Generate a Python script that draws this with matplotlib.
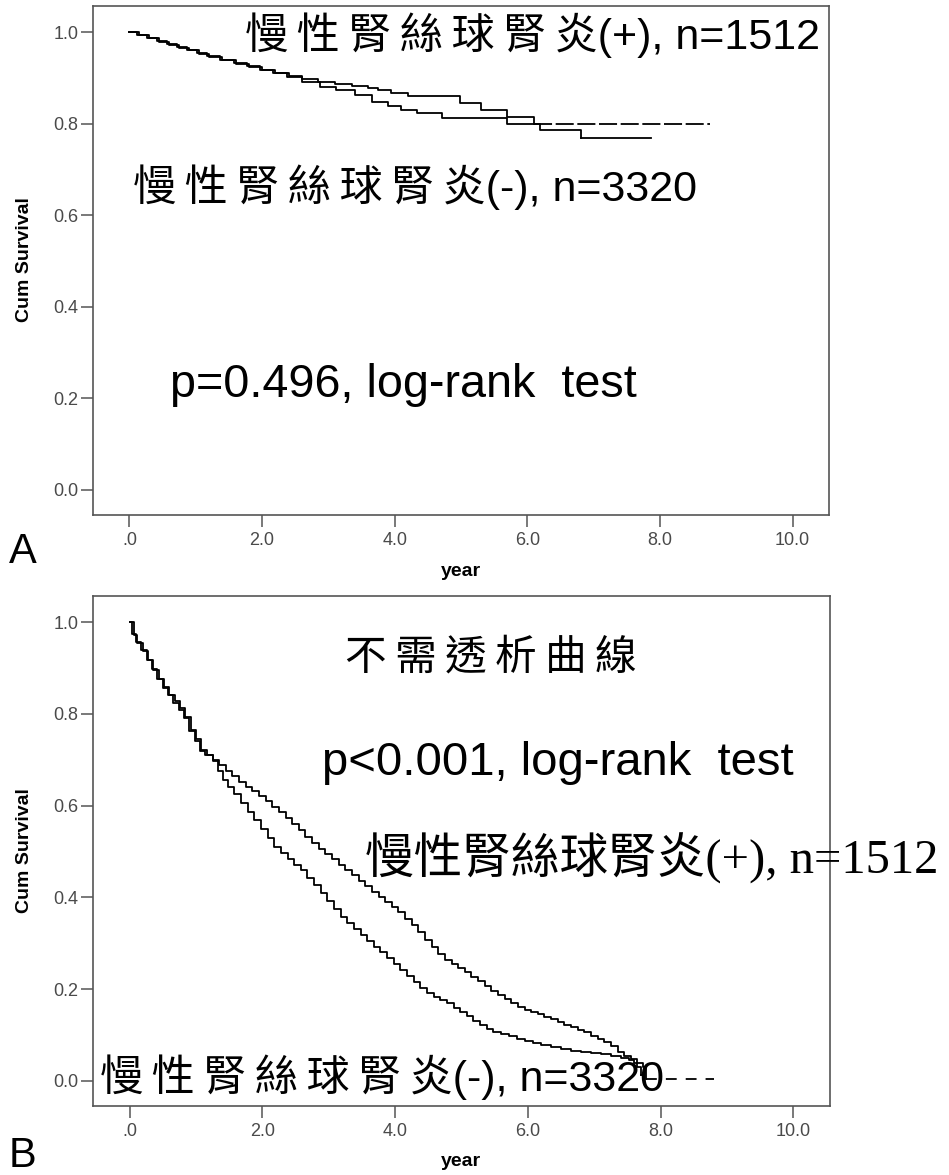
import matplotlib.pyplot as plt

plt.rcParams['font.family'] = ['Liberation Sans', 'Noto Sans CJK TC', 'DejaVu Sans']

W, H = 949, 1175

# ---- data ----
x_ticks = [0, 2, 4, 6, 8, 10]
x_tick_labels = ['.0', '2.0', '4.0', '6.0', '8.0', '10.0']
y_ticks = [0.0, 0.2, 0.4, 0.6, 0.8, 1.0]
y_tick_labels = ['0.0', '0.2', '0.4', '0.6', '0.8', '1.0']

# panel A: all-cause survival
a_time_pos = [0, 0.15, 0.3, 0.45, 0.6, 0.75, 0.9, 1.05, 1.2, 1.4, 1.6, 1.8, 2.0, 2.2, 2.4,
              2.6, 2.85, 3.1, 3.35, 3.6, 3.75, 3.95, 4.2, 4.98, 5.3, 5.69, 6.1]
a_surv_pos = [1.0, 0.993, 0.986, 0.979, 0.972, 0.966, 0.96, 0.953, 0.946, 0.938, 0.931, 0.924,
              0.917, 0.911, 0.904, 0.898, 0.891, 0.886, 0.882, 0.878, 0.873, 0.866, 0.86,
              0.845, 0.83, 0.815, 0.80]
a_end_pos = 8.76
a_time_neg = [0, 0.12, 0.27, 0.42, 0.57, 0.72, 0.87, 1.02, 1.17, 1.37, 1.57, 1.77, 1.97, 2.17,
              2.37, 2.6, 2.87, 3.11, 3.4, 3.66, 3.9, 4.1, 4.34, 4.71, 5.69, 6.19, 6.81]
a_surv_neg = [1.0, 0.994, 0.987, 0.98, 0.973, 0.967, 0.961, 0.954, 0.947, 0.939, 0.932, 0.925,
              0.918, 0.91, 0.902, 0.89, 0.88, 0.873, 0.862, 0.848, 0.838, 0.83, 0.823, 0.812,
              0.80, 0.786, 0.769]
a_end_neg = 7.87

# panel B: dialysis-free survival
b_time_pos = [0.00, 0.06, 0.12, 0.20, 0.28, 0.36, 0.44, 0.52, 0.60, 0.68, 0.76, 0.84, 0.92,
              1.00, 1.08, 1.16, 1.25, 1.35, 1.45, 1.55, 1.65, 1.75, 1.85, 1.95, 2.05, 2.15,
              2.25, 2.35, 2.45, 2.55, 2.65, 2.75, 2.85, 2.95, 3.05, 3.15, 3.25, 3.35, 3.45,
              3.55, 3.65, 3.75, 3.85, 3.95, 4.05, 4.15, 4.25, 4.35, 4.45, 4.55, 4.65, 4.75,
              4.85, 4.95, 5.05, 5.15, 5.25, 5.35, 5.45, 5.55, 5.65, 5.75, 5.85, 5.95, 6.05,
              6.15, 6.25, 6.35, 6.45, 6.55, 6.65, 6.75, 6.85, 6.95, 7.05, 7.15, 7.25, 7.35,
              7.45, 7.55, 7.64, 7.73, 7.78]
b_surv_pos = [1.000, 0.972, 0.955, 0.937, 0.918, 0.895, 0.875, 0.858, 0.842, 0.828, 0.812,
              0.793, 0.765, 0.745, 0.722, 0.710, 0.700, 0.688, 0.676, 0.664, 0.652, 0.641,
              0.632, 0.622, 0.610, 0.597, 0.585, 0.572, 0.559, 0.546, 0.532, 0.518, 0.505,
              0.494, 0.483, 0.471, 0.460, 0.448, 0.436, 0.424, 0.412, 0.400, 0.390, 0.379,
              0.368, 0.354, 0.339, 0.324, 0.308, 0.292, 0.277, 0.264, 0.255, 0.246, 0.237,
              0.227, 0.217, 0.207, 0.197, 0.188, 0.178, 0.169, 0.161, 0.155, 0.150, 0.145,
              0.140, 0.134, 0.128, 0.122, 0.117, 0.112, 0.106, 0.099, 0.092, 0.085, 0.076,
              0.063, 0.055, 0.047, 0.040, 0.030, 0.004]
b_end_pos = 8.8
b_time_neg = [0.00, 0.03, 0.10, 0.18, 0.26, 0.34, 0.42, 0.50, 0.58, 0.66, 0.74, 0.82, 0.90,
              0.98, 1.06, 1.14, 1.25, 1.33, 1.41, 1.49, 1.58, 1.68, 1.78, 1.88, 1.98, 2.08,
              2.18, 2.28, 2.38, 2.48, 2.58, 2.68, 2.78, 2.88, 2.98, 3.08, 3.18, 3.28, 3.38,
              3.48, 3.58, 3.68, 3.78, 3.88, 3.98, 4.08, 4.18, 4.28, 4.38, 4.48, 4.58, 4.68,
              4.78, 4.88, 4.98, 5.08, 5.18, 5.28, 5.38, 5.48, 5.60, 5.72, 5.84, 5.96, 6.08,
              6.20, 6.35, 6.50, 6.65, 6.80, 6.95, 7.10, 7.25, 7.40, 7.53, 7.60, 7.65, 7.70]
b_surv_neg = [1.000, 0.975, 0.957, 0.940, 0.918, 0.898, 0.876, 0.857, 0.840, 0.824, 0.808,
              0.790, 0.762, 0.740, 0.720, 0.710, 0.698, 0.675, 0.655, 0.640, 0.625, 0.605,
              0.586, 0.568, 0.549, 0.530, 0.510, 0.497, 0.484, 0.471, 0.459, 0.443, 0.426,
              0.410, 0.392, 0.374, 0.357, 0.344, 0.331, 0.318, 0.305, 0.292, 0.280, 0.267,
              0.254, 0.241, 0.228, 0.215, 0.203, 0.192, 0.183, 0.176, 0.169, 0.160, 0.151,
              0.141, 0.131, 0.121, 0.113, 0.107, 0.102, 0.097, 0.092, 0.087, 0.082, 0.078,
              0.074, 0.070, 0.066, 0.063, 0.060, 0.058, 0.055, 0.051, 0.046, 0.040, 0.030,
              0.012]
b_end_neg = 7.75

FRAME = '#555555'
SP = '\u2009'   # thin space, the CJK in the original is letter-spaced


def spaced(s):
    return SP.join(s)


def km_curve(ax, t, s, end, tail_ls='-'):
    ax.step(t, s, where='post', color='black', lw=1.3)
    ax.plot([t[-1], end], [s[-1], s[-1]], color='black', lw=1.3, ls=tail_ls)


def style_axes(ax):
    ax.set_xlim(-0.55, 10.55)
    ax.set_ylim(-0.0546, 1.0568)
    ax.set_xticks(x_ticks)
    ax.set_xticklabels(x_tick_labels)
    ax.set_yticks(y_ticks)
    ax.set_yticklabels(y_tick_labels)
    for sp in ax.spines.values():
        sp.set_color(FRAME)
        sp.set_linewidth(1.2)
    ax.tick_params(axis='both', direction='out', length=8.5, width=1.1, color=FRAME,
                   labelsize=13, labelcolor='#4a4a4a')
    ax.tick_params(axis='y', pad=2)
    ax.tick_params(axis='x', pad=4)


def fx(px):
    return px / W


def fy(py):
    return 1 - py / H


fig = plt.figure(figsize=(W / 100, H / 100), dpi=100)

ax_a = fig.add_axes([fx(93), fy(515), 736 / W, 509 / H])
km_curve(ax_a, a_time_pos, a_surv_pos, a_end_pos, tail_ls=(0, (10, 2)))
km_curve(ax_a, a_time_neg, a_surv_neg, a_end_neg)
style_axes(ax_a)

ax_b = fig.add_axes([fx(93), fy(1106), 737 / W, 510 / H])
km_curve(ax_b, b_time_pos, b_surv_pos, b_end_pos, tail_ls=(0, (6, 5)))
km_curve(ax_b, b_time_neg, b_surv_neg, b_end_neg)
style_axes(ax_b)

# axis titles and panel letters
for yc, yy, letter, ly in [(260, 572, 'A', 552), (851, 1162, 'B', 1156)]:
    fig.text(fx(25), fy(yc), 'Cum Survival', rotation=90, ha='center', va='center',
             fontsize=14, fontweight='bold')
    fig.text(fx(461), fy(yy), 'year', ha='center', va='center', fontsize=14, fontweight='bold')
    fig.text(fx(9), fy(ly), letter, ha='left', va='center', fontsize=30)

sans = ['Liberation Sans', 'Noto Sans CJK TC', 'DejaVu Sans']

# panel A annotations
fig.text(fx(245), fy(35), spaced('慢性腎絲球腎炎') + '(+), n=1512', ha='left', va='center',
         fontsize=31, family=sans)
fig.text(fx(133), fy(187), spaced('慢性腎絲球腎炎') + '(-), n=3320', ha='left', va='center',
         fontsize=31, family=sans)
fig.text(fx(170), fy(385), 'p=0.496, log-rank  test', ha='left', va='center',
         fontsize=33.7, family=sans)

# panel B annotations
fig.text(fx(345), fy(658), spaced('不需透析曲線'), ha='left', va='center', fontsize=30,
         family=sans)
fig.text(fx(322), fy(763), 'p<0.001, log-rank  test', ha='left', va='center',
         fontsize=34, family=sans)
fig.text(fx(365), fy(858), '慢性腎絲球腎炎(+), n=1512', ha='left', va='center',
         fontsize=35, family=['Liberation Serif', 'Noto Sans CJK TC'])
fig.text(fx(100), fy(1077), spaced('慢性腎絲球腎炎') + '(-), n=3320', ha='left', va='center',
         fontsize=31, family=sans)

fig.savefig('out.png', dpi=100)
